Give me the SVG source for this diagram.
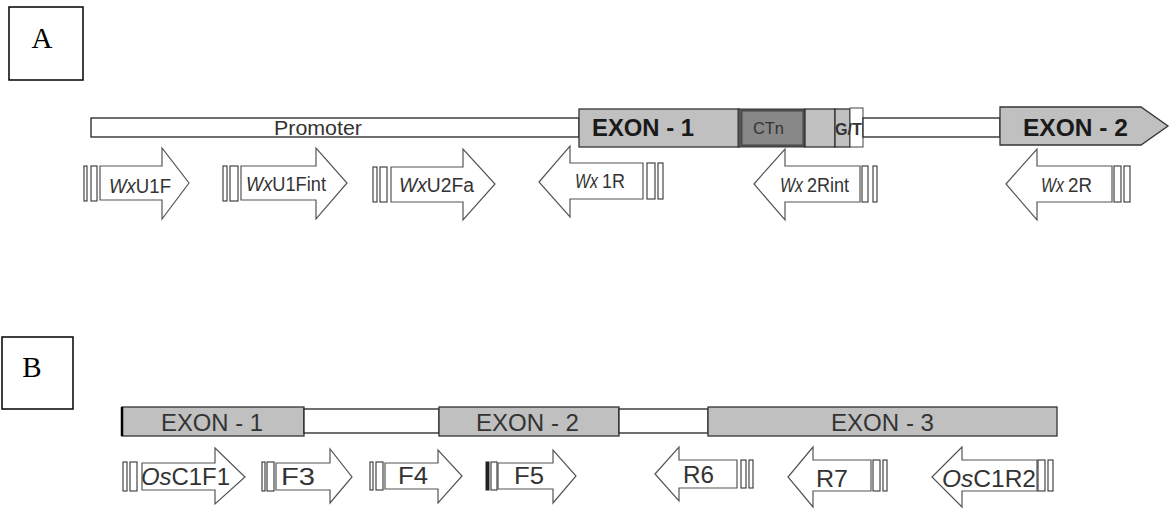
<svg xmlns="http://www.w3.org/2000/svg" width="1173" height="510" viewBox="0 0 1173 510">
<style>
.lbl{font-family:"Liberation Serif","Times New Roman",serif;font-size:29px;fill:#000}
.box{fill:#fff;stroke:#000;stroke-width:1.5}
.bar{fill:#fff;stroke:#222;stroke-width:1.3}
.ex{fill:#c0c0c0;stroke:#333;stroke-width:1.3}
.arr{fill:#fff;stroke:#555;stroke-width:1.2}
.pb{fill:#fff;stroke:#333;stroke-width:1.1}
.t{font-family:"Liberation Sans",Arial,sans-serif;fill:#333}
.ta{font-size:20px}
.tb{font-size:24px}
.exb{font-family:"Liberation Sans",Arial,sans-serif;font-weight:bold;font-size:23px;fill:#1a1a1a}
.exr{font-family:"Liberation Sans",Arial,sans-serif;font-size:24px;fill:#333}
.i{font-style:italic}
</style>

<g id="panelA-label">
<rect class="box" x="9" y="7" width="74" height="73"/>
<text class="lbl" x="42" y="48" text-anchor="middle">A</text>
</g>

<g id="A-gene">
<g id="A-promoter">
<rect class="bar" x="91" y="118" width="488" height="19"/>
<text class="t" x="274" y="135" font-size="20" textLength="88" lengthAdjust="spacingAndGlyphs" fill="#111">Promoter</text>
</g>
<g id="A-exon1">
<rect class="ex" x="579" y="109" width="160" height="38"/>
<text class="exb" x="592" y="136" textLength="102" lengthAdjust="spacingAndGlyphs">EXON - 1</text>
</g>
<g id="A-CTn">
<rect x="738" y="109" width="67" height="38" fill="#555" stroke="#333" stroke-width="1"/>
<rect x="742" y="111" width="61" height="34" fill="#888" stroke="#444" stroke-width="1"/>
<text class="t" x="753" y="134" font-size="17" textLength="31" lengthAdjust="spacingAndGlyphs" fill="#333">CTn</text>
</g>
<g id="A-exon1b">
<rect class="ex" x="805" y="109" width="30" height="38"/>
<rect class="ex" x="835" y="109" width="15" height="38"/>
<rect x="850" y="108" width="13" height="39" fill="#fff" stroke="#444" stroke-width="1"/>
<text class="t" x="835" y="135" font-size="17" font-weight="bold" textLength="27" lengthAdjust="spacingAndGlyphs" fill="#111">G/T</text>
</g>
<g id="A-intron">
<rect class="bar" x="863" y="118" width="137" height="19"/>
</g>
<g id="A-exon2">
<polygon class="ex" points="1000,107 1141,107 1168,126 1141,145 1000,145"/>
<text class="exb" x="1023" y="136" textLength="105" lengthAdjust="spacingAndGlyphs">EXON - 2</text>
</g>
</g>

<g id="A-primers">
<g id="WxU1F">
<rect class="pb" x="84" y="166" width="3" height="35"/>
<rect class="pb" x="91" y="166" width="6" height="35"/>
<polygon class="arr" points="100,166 162,166 162,148 189,183 162,219 162,200 100,200"/>
<text class="t ta" x="109" y="193" textLength="62" lengthAdjust="spacingAndGlyphs"><tspan class="i">Wx</tspan>U1F</text>
</g>
<g id="WxU1Fint">
<rect class="pb" x="223" y="166" width="4" height="35"/>
<rect class="pb" x="230" y="166" width="8" height="35"/>
<polygon class="arr" points="241,166 316,166 316,148 347,183 316,219 316,200 241,200"/>
<text class="t ta" x="246" y="191" textLength="80" lengthAdjust="spacingAndGlyphs"><tspan class="i">Wx</tspan>U1Fint</text>
</g>
<g id="WxU2Fa">
<rect class="pb" x="373" y="167" width="4" height="35"/>
<rect class="pb" x="380" y="167" width="7" height="35"/>
<polygon class="arr" points="391,167 463,167 463,149 495,184 463,220 463,202 391,202"/>
<text class="t ta" x="399" y="192" textLength="75" lengthAdjust="spacingAndGlyphs"><tspan class="i">Wx</tspan>U2Fa</text>
</g>
<g id="Wx1R">
<polygon class="arr" points="539,182 570,146 570,163 643,163 643,199 570,199 570,217"/>
<rect class="pb" x="647" y="163" width="8" height="36"/>
<rect class="pb" x="658" y="163" width="5" height="36"/>
<text class="t ta" y="188"><tspan class="i" x="575" textLength="23" lengthAdjust="spacingAndGlyphs">Wx</tspan><tspan x="602" textLength="23" lengthAdjust="spacingAndGlyphs">1R</tspan></text>
</g>
<g id="Wx2Rint">
<polygon class="arr" points="754,184 785,149 785,166 860,166 860,202 785,202 785,220"/>
<rect class="pb" x="862" y="166" width="6" height="36"/>
<rect class="pb" x="873" y="166" width="4" height="36"/>
<text class="t ta" y="192"><tspan class="i" x="780" textLength="23" lengthAdjust="spacingAndGlyphs">Wx</tspan><tspan x="807" textLength="42" lengthAdjust="spacingAndGlyphs">2Rint</tspan></text>
</g>
<g id="Wx2R">
<polygon class="arr" points="1006,184 1037,149 1037,166 1112,166 1112,202 1037,202 1037,220"/>
<rect class="pb" x="1114" y="166" width="7" height="36"/>
<rect class="pb" x="1124" y="166" width="6" height="36"/>
<text class="t ta" y="192"><tspan class="i" x="1041" textLength="23" lengthAdjust="spacingAndGlyphs">Wx</tspan><tspan x="1068" textLength="24" lengthAdjust="spacingAndGlyphs">2R</tspan></text>
</g>
</g>

<g id="panelB-label">
<rect class="box" x="2" y="337" width="71" height="72"/>
<text class="lbl" x="32" y="377" text-anchor="middle">B</text>
</g>

<g id="B-gene">
<g id="B-exon1">
<rect class="ex" x="122" y="407" width="182" height="29"/>
<line x1="122" y1="407" x2="122" y2="436" stroke="#000" stroke-width="2.5"/>
<text class="exr" x="161" y="431" textLength="102" lengthAdjust="spacingAndGlyphs">EXON - 1</text>
</g>
<g id="B-intron1"><rect class="bar" x="304" y="409" width="135" height="24"/></g>
<g id="B-exon2">
<rect class="ex" x="439" y="407" width="180" height="29"/>
<text class="exr" x="476" y="431" textLength="103" lengthAdjust="spacingAndGlyphs">EXON - 2</text>
</g>
<g id="B-intron2"><rect class="bar" x="619" y="409" width="89" height="24"/></g>
<g id="B-exon3">
<rect class="ex" x="708" y="407" width="349" height="29"/>
<text class="exr" x="831" y="431" textLength="103" lengthAdjust="spacingAndGlyphs">EXON - 3</text>
</g>
</g>

<g id="B-primers">
<g id="OsC1F1">
<rect class="pb" x="123" y="462" width="4" height="29"/>
<rect class="pb" x="130" y="462" width="7" height="29"/>
<polygon class="arr" points="142,463 215,463 215,448 245,477 215,504 215,490 142,490"/>
<text class="t tb" x="141" y="485" textLength="89" lengthAdjust="spacingAndGlyphs"><tspan class="i">Os</tspan>C1F1</text>
</g>
<g id="F3">
<rect class="pb" x="262" y="462" width="3" height="29"/>
<rect class="pb" x="267" y="462" width="7" height="29"/>
<polygon class="arr" points="276,463 330,463 330,449 352,477 330,503 330,490 276,490"/>
<text class="t tb" x="281" y="485" textLength="34" lengthAdjust="spacingAndGlyphs">F3</text>
</g>
<g id="F4">
<rect class="pb" x="370" y="462" width="3" height="28"/>
<rect class="pb" x="376" y="462" width="7" height="28"/>
<polygon class="arr" points="385,463 438,463 438,450 462,476 438,503 438,489 385,489"/>
<text class="t tb" x="398" y="484" textLength="30" lengthAdjust="spacingAndGlyphs">F4</text>
</g>
<g id="F5">
<rect x="486" y="462" width="3" height="28" fill="#222" stroke="#222" stroke-width="1"/>
<rect class="pb" x="491" y="462" width="6" height="28"/>
<polygon class="arr" points="498,463 553,463 553,450 576,476 553,503 553,489 498,489"/>
<text class="t tb" x="514" y="484" textLength="30" lengthAdjust="spacingAndGlyphs">F5</text>
</g>
<g id="R6">
<polygon class="arr" points="655,474 679,447 679,460 737,460 737,488 679,488 679,501"/>
<rect class="pb" x="741" y="460" width="5" height="28"/>
<rect class="pb" x="749" y="460" width="4" height="28"/>
<text class="t tb" x="683" y="483" textLength="31" lengthAdjust="spacingAndGlyphs">R6</text>
</g>
<g id="R7">
<polygon class="arr" points="788,477 813,447 813,460 871,460 871,491 813,491 813,507"/>
<rect class="pb" x="873" y="460" width="7" height="31"/>
<rect class="pb" x="883" y="460" width="4" height="31"/>
<text class="t tb" x="816" y="487" textLength="32" lengthAdjust="spacingAndGlyphs">R7</text>
</g>
<g id="OsC1R2">
<polygon class="arr" points="932,477 962,447 962,460 1037,460 1037,491 962,491 962,507"/>
<rect class="pb" x="1038" y="460" width="7" height="31"/>
<rect class="pb" x="1048" y="460" width="5" height="31"/>
<text class="t tb" x="942" y="487" textLength="94" lengthAdjust="spacingAndGlyphs"><tspan class="i">Os</tspan>C1R2</text>
</g>
</g>
</svg>
